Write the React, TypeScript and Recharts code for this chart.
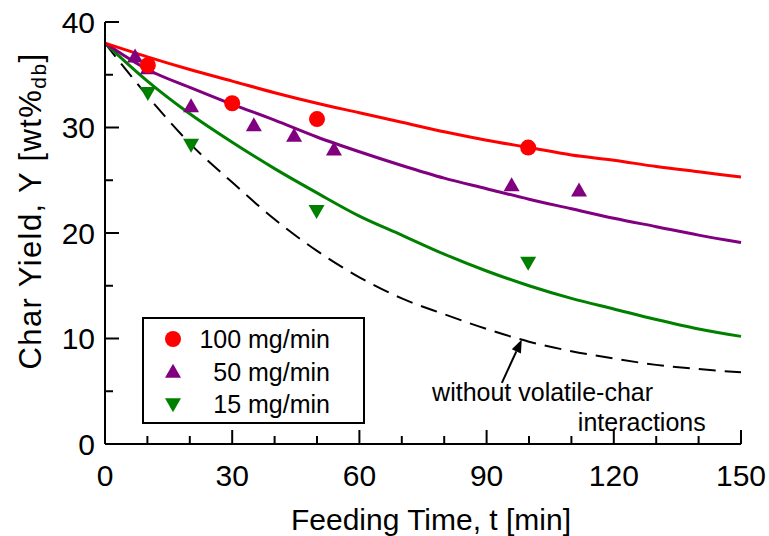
import React from 'react';
import {
  ComposedChart,
  Line,
  Scatter,
  XAxis,
  YAxis,
  Legend,
  ReferenceLine,
  ReferenceDot,
} from 'recharts';

// model curves, every 10 min
const curveTime = [0, 10, 20, 30, 40, 50, 60, 70, 80, 90, 100, 110, 120, 130, 140, 150];
const model100 = [38, 36.7, 35.5, 34.4, 33.3, 32.3, 31.4, 30.5, 29.6, 28.8, 28.1, 27.4, 26.9, 26.3, 25.8, 25.3];
const model50 = [38, 35.5, 33.8, 32.2, 30.7, 29.1, 27.7, 26.4, 25.2, 24.2, 23.2, 22.3, 21.4, 20.6, 19.8, 19.1];
const model15 = [38, 34.4, 31.3, 28.6, 26.1, 23.8, 21.6, 19.8, 18.0, 16.4, 15.0, 13.8, 12.8, 11.8, 10.9, 10.2];
const modelNoInteraction = [38, 33.0, 28.5, 24.8, 21.3, 18.3, 15.8, 13.8, 12.3, 10.9, 9.7, 8.8, 8.1, 7.5, 7.1, 6.8];

// measured points
const exp100Time = [10.1, 30, 50, 99.8];
const exp100Yield = [35.9, 32.3, 30.8, 28.1];
const exp50Time = [7.1, 10.1, 20.3, 35.1, 44.6, 54, 95.9, 111.8];
const exp50Yield = [36.6, 35.5, 31.9, 30.1, 29.1, 27.8, 24.4, 23.9];
const exp15Time = [10.1, 20.3, 49.9, 99.8];
const exp15Yield = [33.4, 28.5, 22.2, 17.3];

const xTicks = [0, 10, 20, 30, 40, 50, 60, 70, 80, 90, 100, 110, 120, 130, 140, 150];
const yTicks = [0, 5, 10, 15, 20, 25, 30, 35, 40];
const seriesNames = ['100 mg/min', '50 mg/min', '15 mg/min'];

const curveData = curveTime.map((t, i) => ({
  t,
  y100: model100[i],
  y50: model50[i],
  y15: model15[i],
  y0: modelNoInteraction[i],
}));
const pts = (ts: number[], ys: number[]) => ts.map((t, i) => ({ t, y: ys[i] }));
const exp100 = pts(exp100Time, exp100Yield);
const exp50 = pts(exp50Time, exp50Yield);
const exp15 = pts(exp15Time, exp15Yield);

const FONT = 'Arial, "Liberation Sans", Helvetica, sans-serif';
const RED = '#ff0000';
const PURPLE = '#800080';
const GREEN = '#008000';

const upTri = (cx: number, cy: number) =>
  `${cx},${cy - 9.3} ${cx + 8},${cy + 4.7} ${cx - 8},${cy + 4.7}`;
const downTri = (cx: number, cy: number) =>
  `${cx},${cy + 9.3} ${cx + 8},${cy - 4.7} ${cx - 8},${cy - 4.7}`;

const CircleMark = (p: any) => <circle cx={p.cx} cy={p.cy} r={8} fill={RED} />;
const UpMark = (p: any) => <polygon points={upTri(p.cx, p.cy)} fill={PURPLE} />;
const DownMark = (p: any) => <polygon points={downTri(p.cx, p.cy)} fill={GREEN} />;

const tickLen = (major: boolean) => (major ? 14 : 8);

const BottomTick = (props: any) => {
  const { x, y, payload } = props;
  const major = payload.value % 30 === 0;
  return (
    <g>
      <line x1={x} y1={y} x2={x} y2={y - tickLen(major)} stroke="#000" strokeWidth={2} />
      {major && (
        <text x={x} y={y + 31} textAnchor="middle" dominantBaseline="central" fontSize={30} fontFamily={FONT} fill="#000">
          {payload.value}
        </text>
      )}
    </g>
  );
};

const TopTick = (props: any) => {
  const { x, y, payload } = props;
  const major = payload.value % 30 === 0;
  return <line x1={x} y1={y} x2={x} y2={y + tickLen(major)} stroke="#000" strokeWidth={2} />;
};

const LeftTick = (props: any) => {
  const { x, y, payload } = props;
  const major = payload.value % 10 === 0;
  return (
    <g>
      <line x1={x} y1={y} x2={x + tickLen(major)} y2={y} stroke="#000" strokeWidth={2} />
      {major && (
        <text x={x - 10} y={y} textAnchor="end" dominantBaseline="central" fontSize={30} fontFamily={FONT} fill="#000">
          {payload.value}
        </text>
      )}
    </g>
  );
};

const RightTick = (props: any) => {
  const { x, y, payload } = props;
  const major = payload.value % 10 === 0;
  return <line x1={x} y1={y} x2={x - tickLen(major)} y2={y} stroke="#000" strokeWidth={2} />;
};

const XTitle = (props: any) => {
  const vb = props.viewBox;
  return (
    <text x={vb.x + vb.width / 2 + 8} y={vb.y + 75} textAnchor="middle" dominantBaseline="central" fontSize={30} fontFamily={FONT} fill="#000">
      Feeding Time, t [min]
    </text>
  );
};

const YTitle = (props: any) => {
  const vb = props.viewBox;
  const cx = vb.x - 15;
  const cy = vb.y + vb.height / 2 - 22;
  return (
    <text transform={`translate(${cx},${cy}) rotate(-90)`} textAnchor="middle" dominantBaseline="central" fontSize={31} letterSpacing={1.4} fontFamily={FONT} fill="#000">
      Char Yield, Y [wt%
      <tspan dy={8} fontSize={21}>db</tspan>
      <tspan dy={-8}>]</tspan>
    </text>
  );
};

const legendSymbols = [
  <circle cx={10} cy={10} r={8} fill={RED} />,
  <polygon points={upTri(10, 11)} fill={PURPLE} />,
  <polygon points={downTri(10, 9)} fill={GREEN} />,
];

const LegendBox = () => (
  <div
    style={{
      position: 'relative',
      width: 223,
      height: 107,
      boxSizing: 'border-box',
      border: '2px solid #000',
      background: '#fff',
      fontFamily: FONT,
      fontSize: 25,
      color: '#000',
    }}
  >
    {seriesNames.map((name, i) => (
      <div key={name} style={{ position: 'absolute', left: 0, right: 0, top: 20 + i * 32.5 - 15, height: 30 }}>
        <svg width={20} height={20} style={{ position: 'absolute', left: 19, top: 5 }}>
          {legendSymbols[i]}
        </svg>
        <span style={{ position: 'absolute', right: 33, top: 0, lineHeight: '30px', whiteSpace: 'nowrap' }}>{name}</span>
      </div>
    ))}
  </div>
);

const ArrowShape = (p: any) => {
  const { x1, y1, x2, y2 } = p;
  const ang = Math.atan2(y2 - y1, x2 - x1);
  const len = 13;
  const half = 5;
  const bx = x2 - len * Math.cos(ang);
  const by = y2 - len * Math.sin(ang);
  const nx = -Math.sin(ang) * half;
  const ny = Math.cos(ang) * half;
  return (
    <g>
      <line x1={x1} y1={y1} x2={bx} y2={by} stroke="#000" strokeWidth={2} />
      <polygon points={`${x2},${y2} ${bx + nx},${by + ny} ${bx - nx},${by - ny}`} fill="#000" />
    </g>
  );
};

const noteText = (line: string) => (p: any) => (
  <text x={p.cx} y={p.cy} textAnchor="middle" dominantBaseline="central" fontSize={25} fontFamily={FONT} fill="#000">
    {line}
  </text>
);

export default function App() {
  return (
    <div style={{ position: 'absolute', left: 0, top: 0 }}>
      <ComposedChart
        width={769}
        height={536}
        data={curveData}
        margin={{ top: 22, right: 28, bottom: 32, left: 45 }}
      >
        <XAxis
          dataKey="t"
          type="number"
          domain={[0, 150]}
          ticks={xTicks}
          interval={0}
          height={60}
          tickSize={0}
          tickMargin={0}
          tickLine={false}
          axisLine={{ stroke: '#000', strokeWidth: 2 }}
          tick={<BottomTick />}
          label={<XTitle />}
        />
        <XAxis
          xAxisId="top"
          orientation="top"
          dataKey="t"
          type="number"
          domain={[0, 150]}
          ticks={xTicks}
          interval={0}
          height={0}
          tickSize={0}
          tickMargin={0}
          tickLine={false}
          axisLine={{ stroke: '#000', strokeWidth: 2 }}
          tick={<TopTick />}
        />
        <YAxis
          type="number"
          domain={[0, 40]}
          ticks={yTicks}
          interval={0}
          width={60}
          tickSize={0}
          tickMargin={0}
          tickLine={false}
          axisLine={{ stroke: '#000', strokeWidth: 2 }}
          tick={<LeftTick />}
          label={<YTitle />}
        />
        <YAxis
          yAxisId="right"
          orientation="right"
          type="number"
          domain={[0, 40]}
          ticks={yTicks}
          interval={0}
          width={0}
          tickSize={0}
          tickMargin={0}
          tickLine={false}
          axisLine={{ stroke: '#000', strokeWidth: 2 }}
          tick={<RightTick />}
        />
        <Legend
          layout="vertical"
          align="center"
          verticalAlign="middle"
          wrapperStyle={{ left: 142, top: 317, width: 223, height: 107 }}
          content={<LegendBox />}
        />
        <Line type="monotone" dataKey="y0" stroke="#000" strokeWidth={2} strokeDasharray="17 9" dot={false} activeDot={false} isAnimationActive={false} legendType="none" />
        <Line type="monotone" dataKey="y15" stroke={GREEN} strokeWidth={3} dot={false} activeDot={false} isAnimationActive={false} />
        <Line type="monotone" dataKey="y50" stroke={PURPLE} strokeWidth={3} dot={false} activeDot={false} isAnimationActive={false} />
        <Line type="monotone" dataKey="y100" stroke={RED} strokeWidth={3} dot={false} activeDot={false} isAnimationActive={false} />
        <Scatter name={seriesNames[2]} data={exp15} dataKey="y" shape={DownMark} isAnimationActive={false} />
        <Scatter name={seriesNames[1]} data={exp50} dataKey="y" shape={UpMark} isAnimationActive={false} />
        <Scatter name={seriesNames[0]} data={exp100} dataKey="y" shape={CircleMark} isAnimationActive={false} />
        <ReferenceLine
          segment={[{ x: 93.6, y: 5.8 }, { x: 98.3, y: 9.9 }]}
          ifOverflow="visible"
          shape={ArrowShape}
        />
        <ReferenceDot x={103.2} y={4.9} ifOverflow="visible" shape={noteText('without volatile-char')} />
        <ReferenceDot x={126.6} y={2.1} ifOverflow="visible" shape={noteText('interactions')} />
      </ComposedChart>
    </div>
  );
}
